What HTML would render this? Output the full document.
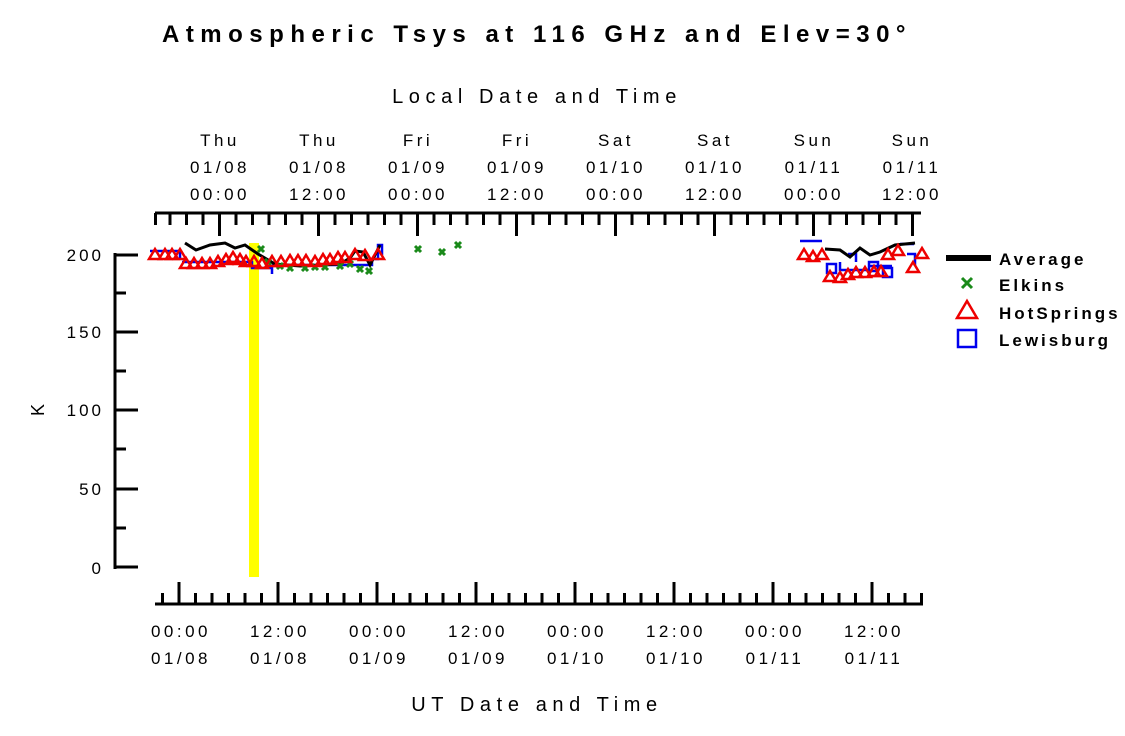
<!DOCTYPE html>
<html><head><style>
body{margin:0;background:#fff}
svg text{font-family:"Liberation Sans",sans-serif;}
</style></head><body>
<svg width="1125" height="731" xmlns="http://www.w3.org/2000/svg">
<defs>
<path id="t" d="M0 -6l6 10h-12z" fill="none" stroke="#ee0000" stroke-width="2.5"/>
<path id="x" d="M-3 -3l6 6M3 -3l-6 6" stroke="#1a8a1a" stroke-width="3"/>
</defs>
<rect width="1125" height="731" fill="#fff"/>
<text x="537" y="42" font-size="24" font-weight="bold" text-anchor="middle" letter-spacing="6.5">Atmospheric Tsys at 116 GHz and Elev=30°</text>
<text x="537" y="103" font-size="20" text-anchor="middle" letter-spacing="5.6">Local Date and Time</text>
<g font-size="17" text-anchor="middle" letter-spacing="3.5">
<text x="220" y="146">Thu</text><text x="220" y="173">01/08</text><text x="220" y="200">00:00</text>
<text x="319" y="146">Thu</text><text x="319" y="173">01/08</text><text x="319" y="200">12:00</text>
<text x="418" y="146">Fri</text><text x="418" y="173">01/09</text><text x="418" y="200">00:00</text>
<text x="517" y="146">Fri</text><text x="517" y="173">01/09</text><text x="517" y="200">12:00</text>
<text x="616" y="146">Sat</text><text x="616" y="173">01/10</text><text x="616" y="200">00:00</text>
<text x="715" y="146">Sat</text><text x="715" y="173">01/10</text><text x="715" y="200">12:00</text>
<text x="814" y="146">Sun</text><text x="814" y="173">01/11</text><text x="814" y="200">00:00</text>
<text x="912" y="146">Sun</text><text x="912" y="173">01/11</text><text x="912" y="200">12:00</text>
</g>
<g font-size="17" text-anchor="middle" letter-spacing="3.5">
<text x="181" y="637">00:00</text><text x="181" y="664">01/08</text>
<text x="280" y="637">12:00</text><text x="280" y="664">01/08</text>
<text x="379" y="637">00:00</text><text x="379" y="664">01/09</text>
<text x="478" y="637">12:00</text><text x="478" y="664">01/09</text>
<text x="577" y="637">00:00</text><text x="577" y="664">01/10</text>
<text x="676" y="637">12:00</text><text x="676" y="664">01/10</text>
<text x="775" y="637">00:00</text><text x="775" y="664">01/11</text>
<text x="874" y="637">12:00</text><text x="874" y="664">01/11</text>
</g>
<text x="537" y="711" font-size="20" text-anchor="middle" letter-spacing="5.6">UT Date and Time</text>
<text x="44" y="410" font-size="18" text-anchor="middle" transform="rotate(-90 44 410)">K</text>
<g font-size="17" text-anchor="end" letter-spacing="3">
<text x="104" y="261">200</text><text x="104" y="338">150</text><text x="104" y="416">100</text><text x="104" y="495">50</text><text x="104" y="574">0</text>
</g>
<rect x="249" y="243" width="10" height="334" fill="#ffff00"/>
<g stroke="#000" stroke-width="3" fill="none">
<line x1="115" y1="253" x2="115" y2="569"/>
<line x1="115" y1="255" x2="138" y2="255"/><line x1="115" y1="332" x2="138" y2="332"/><line x1="115" y1="410" x2="138" y2="410"/><line x1="115" y1="489" x2="138" y2="489"/><line x1="115" y1="567" x2="138" y2="567"/>
<line x1="115" y1="293" x2="126" y2="293"/><line x1="115" y1="371" x2="126" y2="371"/><line x1="115" y1="449" x2="126" y2="449"/><line x1="115" y1="528" x2="126" y2="528"/>
<line x1="155" y1="604" x2="923" y2="604"/>
<line x1="155" y1="213" x2="921" y2="213"/>
<path d="M162.5 604V593M195.5 604V593M212 604V593M228.5 604V593M245 604V593M261.5 604V593M294.5 604V593M311 604V593M327.5 604V593M344 604V593M360.5 604V593M393.5 604V593M410 604V593M426.5 604V593M443 604V593M459.5 604V593M492.5 604V593M509 604V593M525.5 604V593M542 604V593M558.5 604V593M591.5 604V593M608 604V593M624.5 604V593M641 604V593M657.5 604V593M690.5 604V593M707 604V593M723.5 604V593M740 604V593M756.5 604V593M789.5 604V593M806 604V593M822.5 604V593M839 604V593M855.5 604V593M888.5 604V593M905 604V593M921.5 604V593"/>
<path d="M179 604V582M278 604V582M377 604V582M476 604V582M575 604V582M674 604V582M773 604V582M872 604V582"/>
<path d="M155.5 213V225M170 213V225M186.5 213V225M203 213V225M236 213V225M252.5 213V225M269 213V225M285.5 213V225M302 213V225M335 213V225M351.5 213V225M368 213V225M384.5 213V225M401 213V225M434 213V225M450.5 213V225M467 213V225M483.5 213V225M500 213V225M533 213V225M549.5 213V225M566 213V225M582.5 213V225M599 213V225M632 213V225M648.5 213V225M665 213V225M681.5 213V225M698 213V225M731 213V225M747.5 213V225M764 213V225M780.5 213V225M797 213V225M830 213V225M846.5 213V225M863 213V225M879.5 213V225M896 213V225"/>
<path d="M219.5 213V236M318.5 213V236M417.5 213V236M516.5 213V236M615.5 213V236M714.5 213V236M813.5 213V236M912.5 213V236"/>
</g>
<g fill="none" stroke="#0000ee" stroke-width="2.5">
<path d="M150 251h30v8M182 262h70v6h20v6M272 265h100v-6h6v-14h4v10M800 241h22M840 262v8h30M848 254h8v8M870 266h22M900 244h14M907 254h8v12"/>
<rect x="827" y="264" width="9" height="9"/><rect x="883" y="268" width="9" height="9"/><rect x="869" y="262" width="9" height="9"/>
</g>
<polyline fill="none" stroke="#000" stroke-width="3" points="185,243 196,250 210,245 225,243 235,248 245,245 258,254 275,264 300,266 340,264 350,258 355,251 363,252 370,265 380,245"/>
<polyline fill="none" stroke="#000" stroke-width="3" points="825,249 840,250 850,257 860,248 870,255 880,252 895,245 905,244 915,243"/>
<use href="#x" x="261" y="249"/><use href="#x" x="268" y="262"/><use href="#x" x="280" y="266"/><use href="#x" x="290" y="268"/><use href="#x" x="305" y="268"/><use href="#x" x="315" y="267"/><use href="#x" x="325" y="267"/><use href="#x" x="340" y="266"/><use href="#x" x="350" y="264"/><use href="#x" x="360" y="269"/><use href="#x" x="369" y="271"/><use href="#x" x="418" y="249"/><use href="#x" x="442" y="252"/><use href="#x" x="458" y="245"/>
<use href="#t" x="155" y="255"/><use href="#t" x="165" y="255"/><use href="#t" x="172" y="255"/><use href="#t" x="180" y="255"/><use href="#t" x="186" y="264"/><use href="#t" x="194" y="264"/><use href="#t" x="202" y="264"/><use href="#t" x="210" y="264"/><use href="#t" x="218" y="262"/><use href="#t" x="226" y="260"/><use href="#t" x="233" y="258"/><use href="#t" x="240" y="260"/><use href="#t" x="246" y="262"/><use href="#t" x="254" y="262"/><use href="#t" x="262" y="264"/><use href="#t" x="272" y="262"/><use href="#t" x="281" y="262"/><use href="#t" x="290" y="261"/><use href="#t" x="298" y="261"/><use href="#t" x="306" y="261"/><use href="#t" x="315" y="262"/><use href="#t" x="323" y="260"/><use href="#t" x="330" y="260"/><use href="#t" x="338" y="258"/><use href="#t" x="345" y="258"/><use href="#t" x="355" y="255"/><use href="#t" x="365" y="256"/><use href="#t" x="378" y="255"/>
<use href="#t" x="804" y="255"/><use href="#t" x="813" y="257"/><use href="#t" x="822" y="255"/><use href="#t" x="830" y="277"/><use href="#t" x="840" y="278"/><use href="#t" x="848" y="275"/><use href="#t" x="856" y="273"/><use href="#t" x="865" y="273"/><use href="#t" x="874" y="272"/><use href="#t" x="881" y="272"/><use href="#t" x="888" y="255"/><use href="#t" x="898" y="251"/><use href="#t" x="913" y="268"/><use href="#t" x="922" y="254"/>
<rect x="946" y="255" width="45" height="6" fill="#000"/>
<path d="M962 278l10 10M972 278l-10 10" stroke="#1a8a1a" stroke-width="3"/>
<path d="M967 301l10 17h-20z" fill="none" stroke="#ee0000" stroke-width="2.5"/>
<rect x="958" y="330" width="18" height="17" fill="none" stroke="#0000ee" stroke-width="2.5"/>
<g font-size="17" font-weight="bold" letter-spacing="3">
<text x="999" y="265">Average</text><text x="999" y="291">Elkins</text><text x="999" y="319">HotSprings</text><text x="999" y="346">Lewisburg</text>
</g>
</svg>
</body></html>
